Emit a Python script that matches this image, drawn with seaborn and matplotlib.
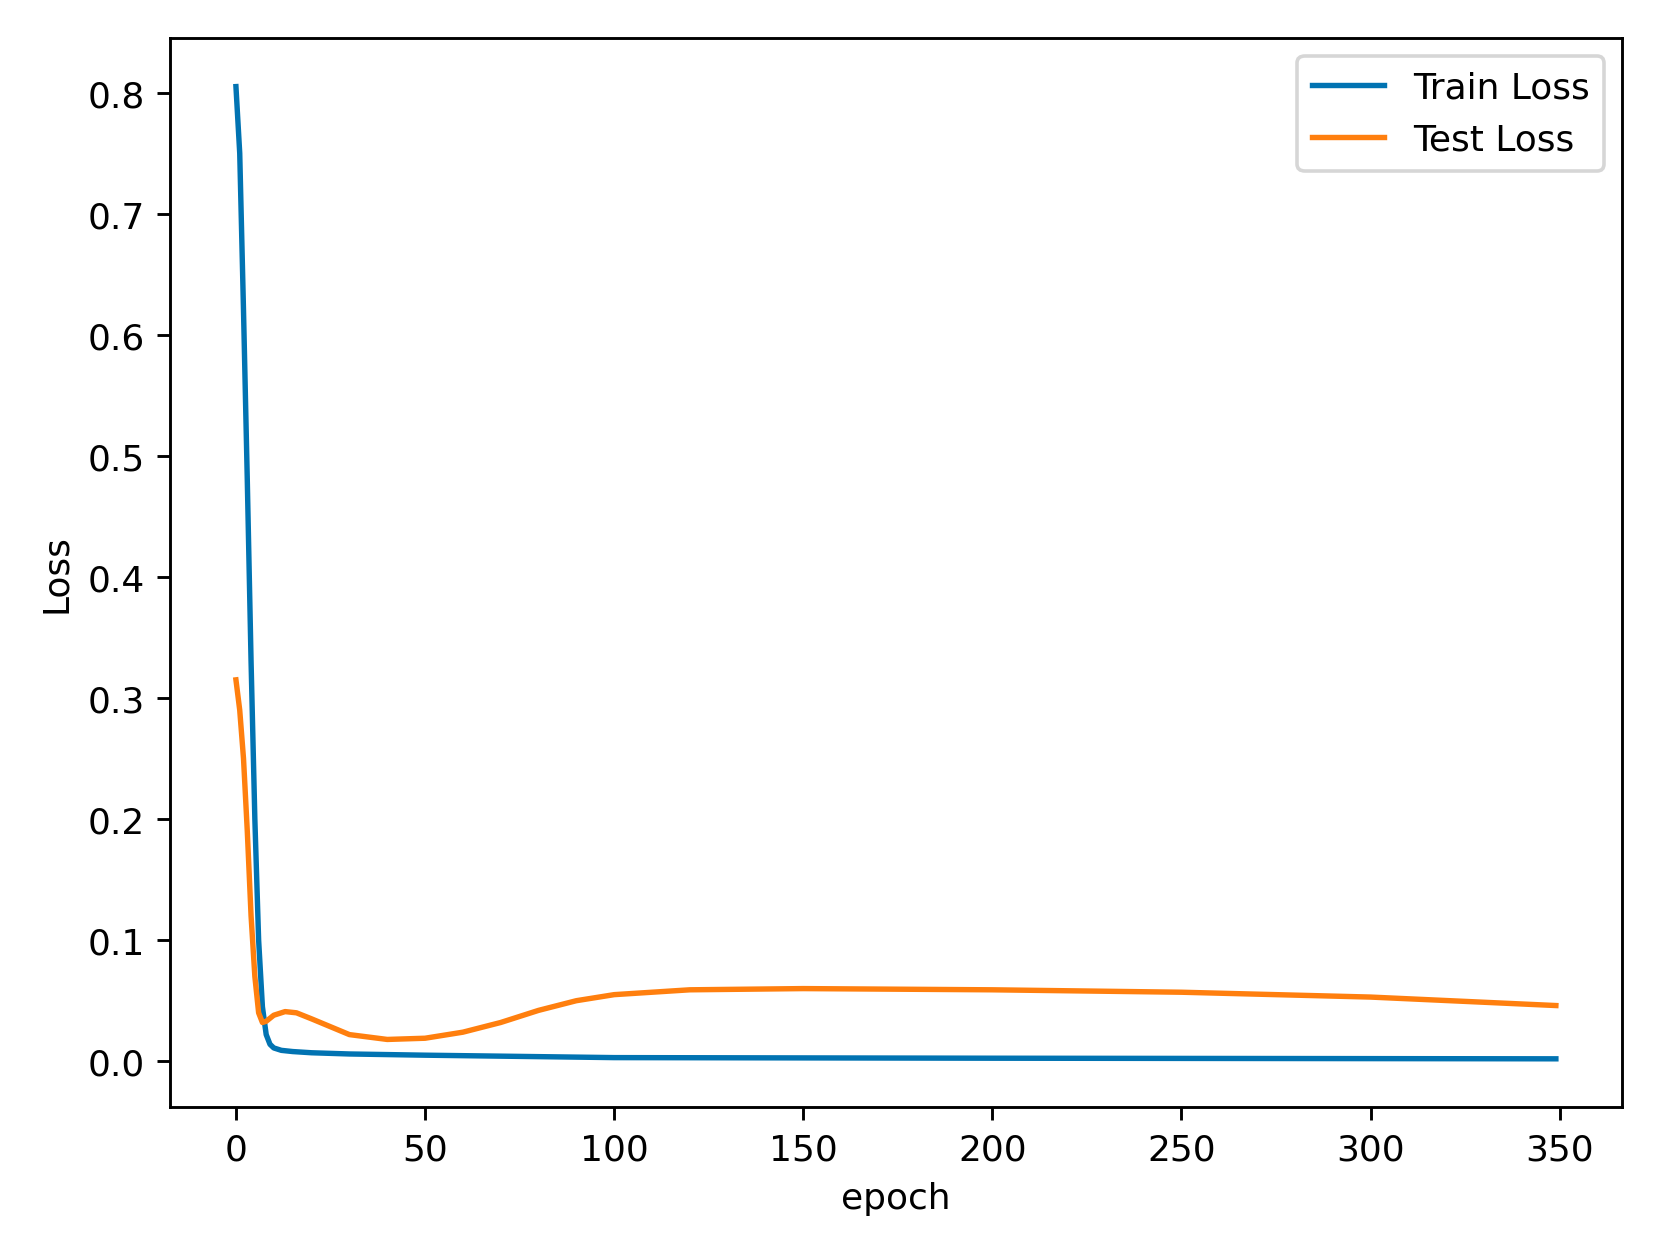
import matplotlib
matplotlib.use('Agg')
import matplotlib.pyplot as plt
import seaborn as sns
import pandas as pd

# valores
train_epochs = [0, 1, 2, 3, 4, 5, 6, 7, 8, 9, 10, 12, 15, 20, 30, 50, 100, 200, 349]
train_loss = [0.805, 0.75, 0.62, 0.48, 0.33, 0.2, 0.1, 0.045, 0.022, 0.014, 0.011,
              0.009, 0.008, 0.007, 0.006, 0.005, 0.003, 0.0025, 0.002]

test_epochs = [0, 1, 2, 3, 4, 5, 6, 7, 8, 10, 13, 16, 20, 30, 40, 50, 60, 70, 80,
               90, 100, 120, 150, 200, 250, 300, 349]
test_loss = [0.315, 0.29, 0.25, 0.19, 0.12, 0.07, 0.04, 0.032, 0.033, 0.038, 0.041,
             0.040, 0.035, 0.022, 0.018, 0.019, 0.024, 0.032, 0.042, 0.050, 0.055,
             0.059, 0.060, 0.059, 0.057, 0.053, 0.046]

df_train = pd.DataFrame({'epoch': train_epochs, 'Loss': train_loss, 'serie': 'Train Loss'})
df_test = pd.DataFrame({'epoch': test_epochs, 'Loss': test_loss, 'serie': 'Test Loss'})
df = pd.concat([df_train, df_test], ignore_index=True)

plt.rcParams['font.family'] = ['DejaVu Sans']
fig, ax = plt.subplots(figsize=(6.4, 4.836), dpi=259.5)
sns.lineplot(data=df, x='epoch', y='Loss', hue='serie',
             palette=['#0173b2', '#ff7f0e'], linewidth=1.5, ax=ax)
ax.legend(title=None, loc='upper right')
ax.set_xlabel('epoch')
ax.set_ylabel('Loss')
plt.tight_layout()
plt.savefig('out.png', dpi=259.5)
